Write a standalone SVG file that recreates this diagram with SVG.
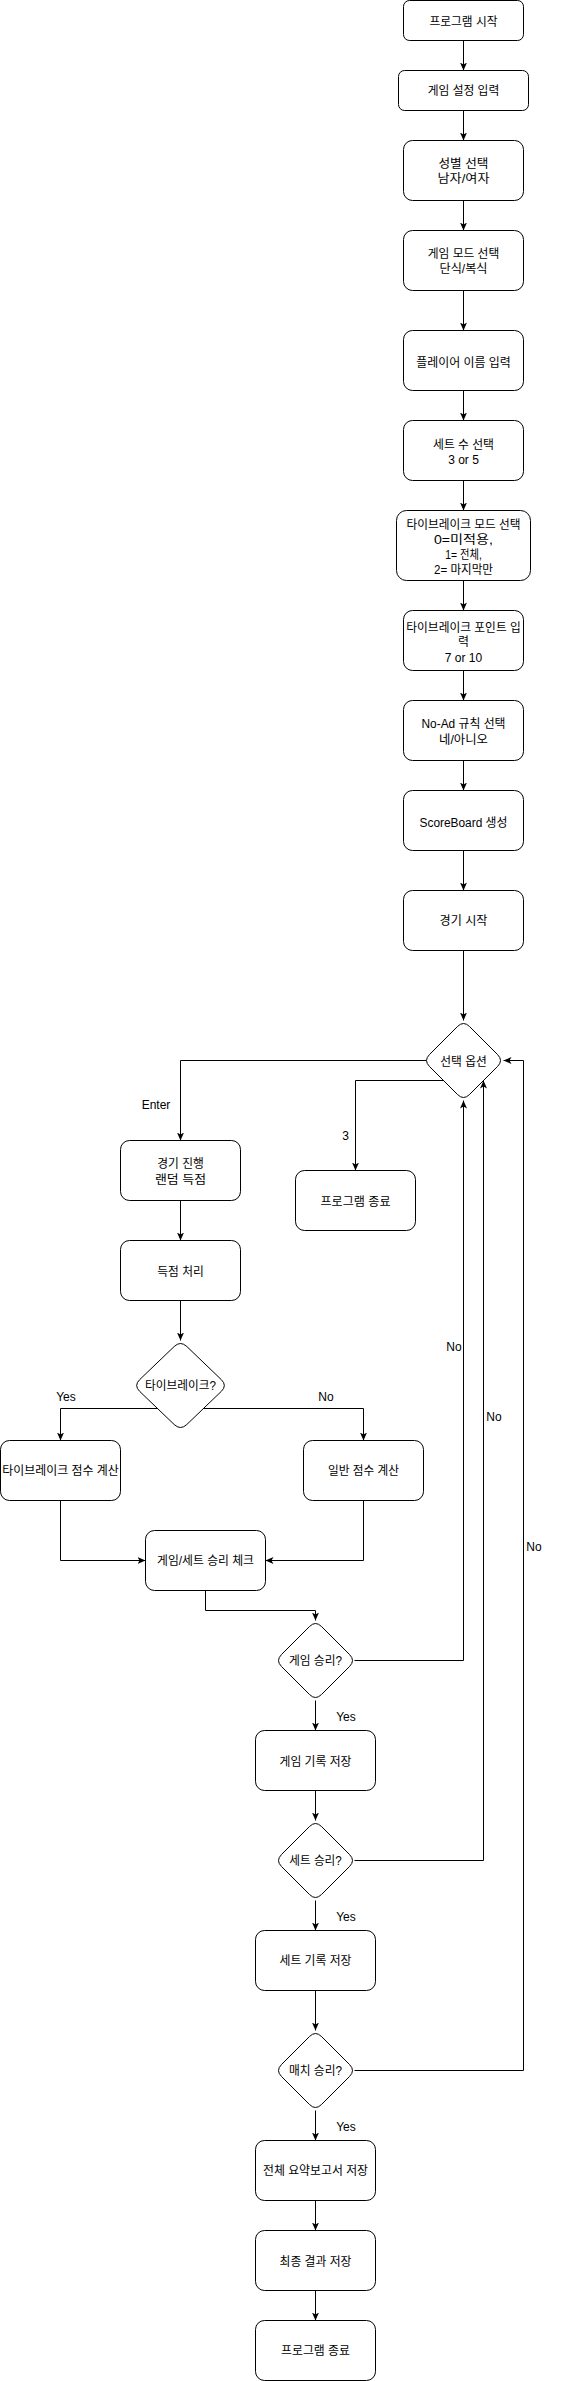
<svg xmlns="http://www.w3.org/2000/svg" width="563" height="2381" viewBox="0 0 563 2381">
<style>
.n rect,.n path,.n use{fill:#fff;stroke:#000;stroke-width:1}
.t{font-family:"Liberation Sans","Noto Sans CJK KR",sans-serif;font-size:12px;text-anchor:middle;fill:#000}
.e path{fill:none;stroke:#000;stroke-width:1}
.l{font-family:"Liberation Sans","Noto Sans CJK KR",sans-serif;font-size:12px;text-anchor:middle;fill:#000}
</style>
<defs>
<marker id="arr" viewBox="0 0 8 8" markerWidth="8" markerHeight="8" refX="8" refY="4" orient="auto" markerUnits="userSpaceOnUse"><path d="M0,0.5 L8,4 L0,7.5 L2,4 Z" fill="#000"/></marker>
<path id="dia80" d="M6,-34 L34,-6 Q40,0 34,6 L6,34 Q0,40 -6,34 L-34,6 Q-40,0 -34,-6 L-6,-34 Q0,-40 6,-34 Z"/>
</defs>
<rect width="563" height="2381" fill="#fff"/>
<g transform="translate(0.5,0.5)">
<g id="connectors" class="e">
<path d="M463,40 V70" marker-end="url(#arr)"/>
<path d="M463,110 V140" marker-end="url(#arr)"/>
<path d="M463,200 V230" marker-end="url(#arr)"/>
<path d="M463,290 V330" marker-end="url(#arr)"/>
<path d="M463,390 V420" marker-end="url(#arr)"/>
<path d="M463,480 V510" marker-end="url(#arr)"/>
<path d="M463,580 V610" marker-end="url(#arr)"/>
<path d="M463,670 V700" marker-end="url(#arr)"/>
<path d="M463,760 V790" marker-end="url(#arr)"/>
<path d="M463,850 V890" marker-end="url(#arr)"/>
<path d="M463,950 V1020" marker-end="url(#arr)"/>
<path d="M426,1060 H180 V1140" marker-end="url(#arr)"/>
<path d="M443,1080 H355 V1170" marker-end="url(#arr)"/>
<path d="M180,1200 V1240" marker-end="url(#arr)"/>
<path d="M180,1300 V1340" marker-end="url(#arr)"/>
<path d="M158,1408 H60 V1440" marker-end="url(#arr)"/>
<path d="M202,1408 H363 V1440" marker-end="url(#arr)"/>
<path d="M60,1500 V1560 H145" marker-end="url(#arr)"/>
<path d="M363,1500 V1560 H265" marker-end="url(#arr)"/>
<path d="M205,1590 V1610 H315 V1620" marker-end="url(#arr)"/>
<path d="M315,1700 V1730" marker-end="url(#arr)"/>
<path d="M354,1660 H463 V1100" marker-end="url(#arr)"/>
<path d="M315,1790 V1820" marker-end="url(#arr)"/>
<path d="M354,1860 H483 V1080" marker-end="url(#arr)"/>
<path d="M315,1900 V1930" marker-end="url(#arr)"/>
<path d="M315,1990 V2030" marker-end="url(#arr)"/>
<path d="M354,2070 H523 V1060 H503" marker-end="url(#arr)"/>
<path d="M315,2110 V2140" marker-end="url(#arr)"/>
<path d="M315,2200 V2230" marker-end="url(#arr)"/>
<path d="M315,2290 V2320" marker-end="url(#arr)"/>
</g>
<g id="edge-labels">
<text class="l" x="155.5" y="1108.5">Enter</text>
<text class="l" x="345" y="1139.5">3</text>
<text class="l" x="65.5" y="1400">Yes</text>
<text class="l" x="325.5" y="1400">No</text>
<text class="l" x="453.5" y="1350">No</text>
<text class="l" x="493.5" y="1420.5">No</text>
<text class="l" x="533.5" y="1550.5">No</text>
<text class="l" x="345.5" y="1720">Yes</text>
<text class="l" x="345.5" y="1920">Yes</text>
<text class="l" x="345.5" y="2130">Yes</text>
</g>
<g id="start" class="n"><rect x="403" y="0" width="120" height="40" rx="6"/><text class="t" x="463" y="25.5" textLength="68" lengthAdjust="spacingAndGlyphs">프로그램 시작</text></g>
<g id="settings" class="n"><rect x="398" y="70" width="130" height="40" rx="6"/><text class="t" x="463" y="94.5" textLength="71.5" lengthAdjust="spacingAndGlyphs">게임 설정 입력</text></g>
<g id="gender" class="n"><rect x="403" y="140" width="120" height="60" rx="9"/><text class="t" x="463" y="167.8" textLength="50" lengthAdjust="spacingAndGlyphs">성별 선택</text><text class="t" x="463" y="182.8" textLength="52" lengthAdjust="spacingAndGlyphs">남자/여자</text></g>
<g id="mode" class="n"><rect x="403" y="230" width="120" height="60" rx="9"/><text class="t" x="463" y="257.8" textLength="71.5" lengthAdjust="spacingAndGlyphs">게임 모드 선택</text><text class="t" x="463" y="272.8" textLength="48" lengthAdjust="spacingAndGlyphs">단식/복식</text></g>
<g id="players" class="n"><rect x="403" y="330" width="120" height="60" rx="9"/><text class="t" x="463" y="366" textLength="94.5" lengthAdjust="spacingAndGlyphs">플레이어 이름 입력</text></g>
<g id="sets" class="n"><rect x="403" y="420" width="120" height="60" rx="9"/><text class="t" x="463" y="448.8" textLength="61" lengthAdjust="spacingAndGlyphs">세트 수 선택</text><text class="t" x="463" y="463.8">3 or 5</text></g>
<g id="tbmode" class="n"><rect x="396" y="510" width="134" height="70" rx="10"/><text class="t" x="463" y="528.8" textLength="114" lengthAdjust="spacingAndGlyphs">타이브레이크 모드 선택</text><text class="t" x="463" y="543.8" textLength="59" lengthAdjust="spacingAndGlyphs">0=미적용,</text><text class="t" x="463" y="558.5" textLength="36.5" lengthAdjust="spacingAndGlyphs">1= 전체,</text><text class="t" x="463" y="573.5" textLength="59" lengthAdjust="spacingAndGlyphs">2= 마지막만</text></g>
<g id="tbpoint" class="n"><rect x="403" y="610" width="120" height="60" rx="9"/><text class="t" x="463" y="631" textLength="114.5" lengthAdjust="spacingAndGlyphs">타이브레이크 포인트 입</text><text class="t" x="463" y="645.5" textLength="11" lengthAdjust="spacingAndGlyphs">력</text><text class="t" x="463" y="661.5">7 or 10</text></g>
<g id="noad" class="n"><rect x="403" y="700" width="120" height="60" rx="9"/><text class="t" x="463" y="727.8" textLength="84" lengthAdjust="spacingAndGlyphs">No-Ad 규칙 선택</text><text class="t" x="463" y="743.5" textLength="49" lengthAdjust="spacingAndGlyphs">네/아니오</text></g>
<g id="scoreboard" class="n"><rect x="403" y="790" width="120" height="60" rx="9"/><text class="t" x="463" y="826" textLength="88" lengthAdjust="spacingAndGlyphs">ScoreBoard 생성</text></g>
<g id="matchstart" class="n"><rect x="403" y="890" width="120" height="60" rx="9"/><text class="t" x="463" y="924.5" textLength="48" lengthAdjust="spacingAndGlyphs">경기 시작</text></g>
<g id="option" class="n"><use href="#dia80" x="463" y="1060"/><text class="t" x="463" y="1065" textLength="46.5" lengthAdjust="spacingAndGlyphs">선택 옵션</text></g>
<g id="play" class="n"><rect x="120" y="1140" width="120" height="60" rx="9"/><text class="t" x="180" y="1167.8" textLength="46.5" lengthAdjust="spacingAndGlyphs">경기 진행</text><text class="t" x="180" y="1183.8" textLength="51" lengthAdjust="spacingAndGlyphs">랜덤 득점</text></g>
<g id="exit1" class="n"><rect x="295" y="1170" width="120" height="60" rx="9"/><text class="t" x="355" y="1205" textLength="70" lengthAdjust="spacingAndGlyphs">프로그램 종료</text></g>
<g id="score" class="n"><rect x="120" y="1240" width="120" height="60" rx="9"/><text class="t" x="180" y="1275" textLength="46.5" lengthAdjust="spacingAndGlyphs">득점 처리</text></g>
<g id="tbq" class="n"><path transform="translate(180,1385)" d="M6.3,-39 L40.7,-6 Q47,0 40.7,6 L6.3,39 Q0,45 -6.3,39 L-40.7,6 Q-47,0 -40.7,-6 L-6.3,-39 Q0,-45 6.3,-39 Z"/><text class="t" x="180" y="1389.5" textLength="71" lengthAdjust="spacingAndGlyphs">타이브레이크?</text></g>
<g id="tbcalc" class="n"><rect x="0" y="1440" width="120" height="60" rx="9"/><text class="t" x="60" y="1474.5" textLength="116.5" lengthAdjust="spacingAndGlyphs">타이브레이크 점수 계산</text></g>
<g id="normalcalc" class="n"><rect x="303" y="1440" width="120" height="60" rx="9"/><text class="t" x="363" y="1474.5" textLength="71" lengthAdjust="spacingAndGlyphs">일반 점수 계산</text></g>
<g id="wincheck" class="n"><rect x="145" y="1530" width="120" height="60" rx="9"/><text class="t" x="205" y="1564.8" textLength="97" lengthAdjust="spacingAndGlyphs">게임/세트 승리 체크</text></g>
<g id="gamewin" class="n"><use href="#dia80" x="315" y="1660"/><text class="t" x="315" y="1664.8" textLength="53" lengthAdjust="spacingAndGlyphs">게임 승리?</text></g>
<g id="gamesave" class="n"><rect x="255" y="1730" width="120" height="60" rx="9"/><text class="t" x="315" y="1765" textLength="72" lengthAdjust="spacingAndGlyphs">게임 기록 저장</text></g>
<g id="setwin" class="n"><use href="#dia80" x="315" y="1860"/><text class="t" x="315" y="1864.5" textLength="52.5" lengthAdjust="spacingAndGlyphs">세트 승리?</text></g>
<g id="setsave" class="n"><rect x="255" y="1930" width="120" height="60" rx="9"/><text class="t" x="315" y="1964.5" textLength="72" lengthAdjust="spacingAndGlyphs">세트 기록 저장</text></g>
<g id="matchwin" class="n"><use href="#dia80" x="315" y="2070"/><text class="t" x="315" y="2074.5" textLength="53" lengthAdjust="spacingAndGlyphs">매치 승리?</text></g>
<g id="summary" class="n"><rect x="255" y="2140" width="120" height="60" rx="9"/><text class="t" x="315" y="2174.5" textLength="105" lengthAdjust="spacingAndGlyphs">전체 요약보고서 저장</text></g>
<g id="finalsave" class="n"><rect x="255" y="2230" width="120" height="60" rx="9"/><text class="t" x="315" y="2265" textLength="72" lengthAdjust="spacingAndGlyphs">최종 결과 저장</text></g>
<g id="exit2" class="n"><rect x="255" y="2320" width="120" height="60" rx="9"/><text class="t" x="315" y="2354.5" textLength="69" lengthAdjust="spacingAndGlyphs">프로그램 종료</text></g>
</g>
</svg>
